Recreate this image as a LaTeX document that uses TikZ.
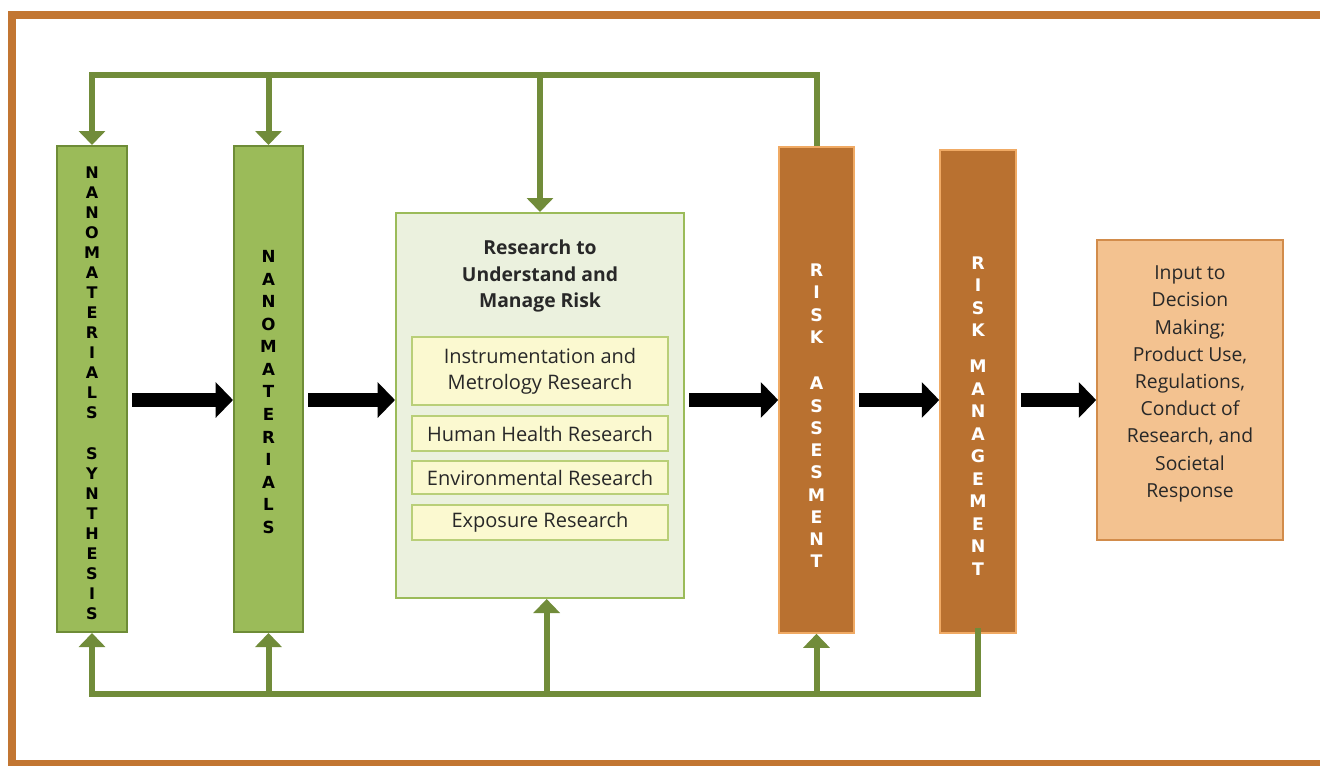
\documentclass[tikz,border=0pt]{standalone}
\usepackage{fontspec}
\setmainfont{Open Sans}
\newfontfamily\letterfont{DejaVu Sans}
\usetikzlibrary{arrows.meta}

\definecolor{frameorange}{RGB}{194,118,50}
\definecolor{nanogreen}{RGB}{155,187,89}
\definecolor{nanoedge}{RGB}{110,140,55}
\definecolor{fbgreen}{RGB}{113,140,58}
\definecolor{researchfill}{RGB}{235,241,222}
\definecolor{researchedge}{RGB}{155,187,89}
\definecolor{subfill}{RGB}{251,249,208}
\definecolor{subedge}{RGB}{185,207,120}
\definecolor{riskfill}{RGB}{185,113,48}
\definecolor{riskedge}{RGB}{240,170,100}
\definecolor{inputfill}{RGB}{243,194,144}
\definecolor{inputedge}{RGB}{210,140,75}
\definecolor{textdark}{RGB}{40,40,40}

\tikzset{every picture/.style={line width=0.75pt}}
\tikzset{
  greenbox/.style={draw=nanoedge, fill=nanogreen, line width=1.5pt, inner sep=0pt, minimum height=364.5pt},
  riskbox/.style={draw=riskedge, fill=riskfill, line width=1.2pt, inner sep=0pt},
  subbox/.style={draw=subedge, fill=subfill, line width=1.5pt, inner sep=0pt, minimum width=192pt, align=center, text=textdark, font=\fontsize{15}{19.5}\selectfont},
  vlet/.style={align=center, inner sep=0pt, font=\letterfont\bfseries\fontsize{12}{15}\selectfont},
  feedback/.style={draw=fbgreen, line width=4.5pt, -{Triangle[width=19.5pt,length=10.5pt]}},
  bigarrow/.style={line width=10pt, -{Triangle[width=26pt,length=13pt]}, shorten <=3pt}
}

\begin{document}
\begin{tikzpicture}[x=0.75pt,y=0.75pt,yscale=-1,xscale=1]
\useasboundingbox (0,0) rectangle (1320,765);
\fill[white] (0,0) rectangle (1320,765);

%Frame
\draw[frameorange, line width=5.5pt] (12,15) rectangle (1340,764);

%Helper rows
\coordinate (topy) at (0,75);
\coordinate (midy) at (0,400);
\coordinate (boty) at (0,694);

%Green boxes
\node[greenbox, minimum width=52.5pt] (ns) at (92,389) {};
\node[greenbox, minimum width=51.75pt] (nm) at (268.5,389) {};
% Text Node
\node[vlet] (ns-txt) at (92,393) {N\\A\\N\\O\\M\\A\\T\\E\\R\\I\\A\\L\\S\\[16pt]S\\Y\\N\\T\\H\\E\\S\\I\\S};
% Text Node
\node[vlet, font=\letterfont\bfseries\fontsize{12.5}{16.9}\selectfont] (nm-txt) at (268.5,392) {N\\A\\N\\O\\M\\A\\T\\E\\R\\I\\A\\L\\S};

%Research box
\node[draw=researchedge, fill=researchfill, line width=1.5pt, inner sep=0pt, minimum width=216pt, minimum height=288.75pt] (rs) at (540,405.5) {};
% Text Node
\node[align=center, text=textdark, font=\bfseries\fontsize{14.5}{20}\selectfont] (rs-title) at (540,276) {Research to\\Understand and\\Manage Risk};
\node[subbox, minimum height=51pt] (inst) at (540,371) {Instrumentation and\\Metrology Research};
\node[subbox, minimum height=26.25pt] (hh) at (540,433.5) {Human Health Research};
\node[subbox, minimum height=24.75pt] (env) at (540,477.5) {Environmental Research};
\node[subbox, minimum height=26.25pt] (expo) at (540,522.5) {Exposure Research};

%Risk boxes
\node[riskbox, minimum width=56.25pt, minimum height=364.5pt] (ra) at (816.5,390) {};
\node[riskbox, minimum width=57pt, minimum height=362.25pt] (rm) at (978,391.5) {};
% Text Node
\node[vlet, text=white, font=\letterfont\bfseries\fontsize{13}{16.7}\selectfont] (ra-txt) at (816.5,416) {R\\I\\S\\K\\[18pt]A\\S\\S\\E\\S\\M\\E\\N\\T};
% Text Node
\node[vlet, text=white, font=\letterfont\bfseries\fontsize{13}{16.9}\selectfont] (rm-txt) at (978,416) {R\\I\\S\\K\\[10pt]M\\A\\N\\A\\G\\E\\M\\E\\N\\T};

%Input box
\node[draw=inputedge, fill=inputfill, line width=1.2pt, inner sep=0pt, minimum width=139.5pt, minimum height=225pt, align=center, text=textdark, font=\fontsize{14.5}{20.4}\selectfont] (inp) at (1190,390) {};
% Text Node
\node[align=center, inner sep=0pt, text=textdark, font=\fontsize{14.5}{20.4}\selectfont] (inp-txt) at (1190,384) {Input to\\Decision\\Making;\\Product Use,\\Regulations,\\Conduct of\\Research, and\\Societal\\Response};

%Feedback lines top
\draw[feedback] (ra.north) -- (ra.north |- topy) -| (ns.north);
\draw[feedback] (nm.north |- topy) -- (nm.north);
\draw[feedback] (rs.north |- topy) -- (rs.north);

%Feedback lines bottom
\draw[feedback] ([yshift=-4]rm.south) -- (rm.south |- boty) -| (ns.south);
\draw[feedback] (nm.south |- boty) -- (nm.south);
\draw[feedback] ([xshift=5]rs.south |- boty) -- ([xshift=5]rs.south);
\draw[feedback] (ra.south |- boty) -- (ra.south);

%Main flow
\draw[bigarrow] (ns.east |- midy) -- (nm.west |- midy);
\draw[bigarrow] (nm.east |- midy) -- (rs.west |- midy);
\draw[bigarrow] (rs.east |- midy) -- (ra.west |- midy);
\draw[bigarrow] (ra.east |- midy) -- (rm.west |- midy);
\draw[bigarrow] (rm.east |- midy) -- (inp.west |- midy);

\end{tikzpicture}
\end{document}
